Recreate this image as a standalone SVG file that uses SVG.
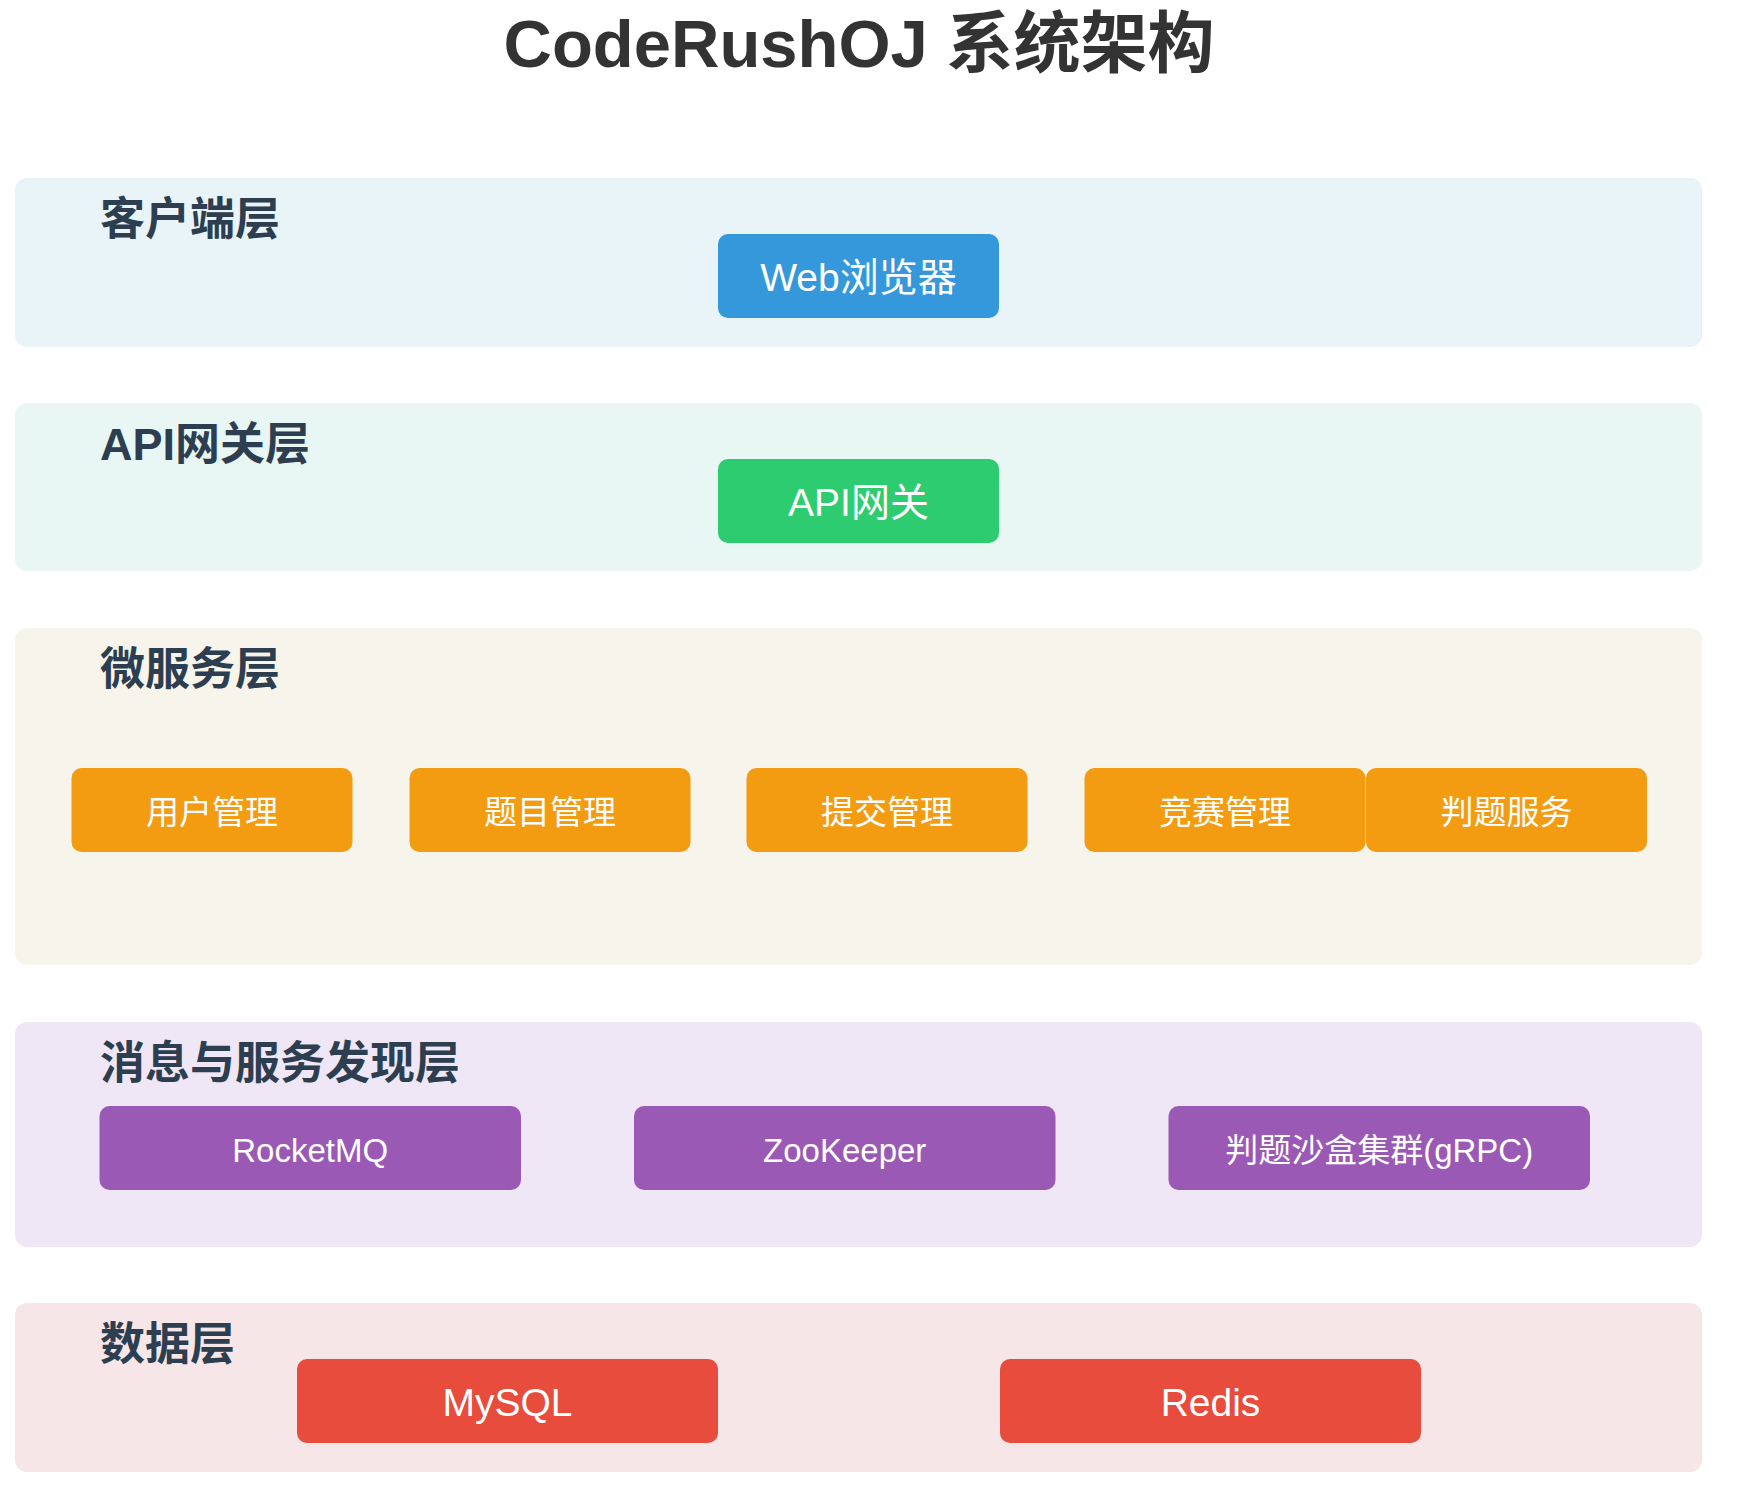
<svg xmlns="http://www.w3.org/2000/svg" width="1750" height="1494" viewBox="0 0 1750 1494">
<style>
text{font-family:"Liberation Sans","Noto Sans CJK SC",sans-serif}
.title{font-size:67px;font-weight:bold;fill:#333333;text-anchor:middle}
.lbl{font-size:45px;font-weight:bold;fill:#2c3e50}
.layer{rx:12px;ry:12px}
.node rect{rx:10px;ry:10px}
.t39{font-size:39px;fill:#ffffff;text-anchor:middle}
.t33{font-size:33px;fill:#ffffff;text-anchor:middle}
.blue{fill:#3498db}.green{fill:#2ecc71}.orange{fill:#f39c12}.purple{fill:#9b59b6}.red{fill:#e74c3c}
</style>
<rect width="1750" height="1494" fill="#ffffff"/>
<text class="title" x="859" y="67">CodeRushOJ 系统架构</text>

<g id="layer-client">
<rect class="layer" x="15" y="178" width="1687" height="169" fill="#e8f4f8"/>
<text class="lbl" x="100" y="235">客户端层</text>
</g>
<g id="layer-gateway">
<rect class="layer" x="15" y="403" width="1687" height="168" fill="#e8f6f4"/>
<text class="lbl" x="100" y="460">API网关层</text>
</g>
<g id="layer-micro">
<rect class="layer" x="15" y="628" width="1687" height="337" fill="#f7f5eb"/>
<text class="lbl" x="100" y="685">微服务层</text>
</g>
<g id="layer-mq">
<rect class="layer" x="15" y="1022" width="1687" height="225" fill="#f0e7f6"/>
<text class="lbl" x="100" y="1079">消息与服务发现层</text>
</g>
<g id="layer-data">
<rect class="layer" x="15" y="1303" width="1687" height="169" fill="#f7e6e8"/>
<text class="lbl" x="100" y="1360">数据层</text>
</g>

<g id="connectors"></g>

<g id="node-web" class="node"><rect class="blue" x="718" y="234" width="281" height="84"/><text class="t39" x="858.5" y="291">Web浏览器</text></g>
<g id="node-api" class="node"><rect class="green" x="718" y="459" width="281" height="84"/><text class="t39" x="858.5" y="516">API网关</text></g>

<g id="node-user" class="node"><rect class="orange" x="71.5" y="768" width="281" height="84"/><text class="t33" x="212" y="824">用户管理</text></g>
<g id="node-problem" class="node"><rect class="orange" x="409.5" y="768" width="281" height="84"/><text class="t33" x="550" y="824">题目管理</text></g>
<g id="node-submit" class="node"><rect class="orange" x="746.5" y="768" width="281" height="84"/><text class="t33" x="887" y="824">提交管理</text></g>
<g id="node-contest" class="node"><rect class="orange" x="1084.5" y="768" width="281" height="84"/><text class="t33" x="1225" y="824">竞赛管理</text></g>
<g id="node-judge" class="node"><rect class="orange" x="1366" y="768" width="281" height="84"/><text class="t33" x="1506.5" y="824">判题服务</text></g>

<g id="node-rocketmq" class="node"><rect class="purple" x="99.5" y="1106" width="421.5" height="84"/><text class="t33" x="310.2" y="1162">RocketMQ</text></g>
<g id="node-zookeeper" class="node"><rect class="purple" x="634" y="1106" width="421.5" height="84"/><text class="t33" x="844.7" y="1162">ZooKeeper</text></g>
<g id="node-sandbox" class="node"><rect class="purple" x="1168.5" y="1106" width="421.5" height="84"/><text class="t33" x="1379.2" y="1162">判题沙盒集群(gRPC)</text></g>

<g id="node-mysql" class="node"><rect class="red" x="297" y="1359" width="421" height="84"/><text class="t39" x="507.5" y="1416">MySQL</text></g>
<g id="node-redis" class="node"><rect class="red" x="1000" y="1359" width="421" height="84"/><text class="t39" x="1210.5" y="1416">Redis</text></g>
</svg>
